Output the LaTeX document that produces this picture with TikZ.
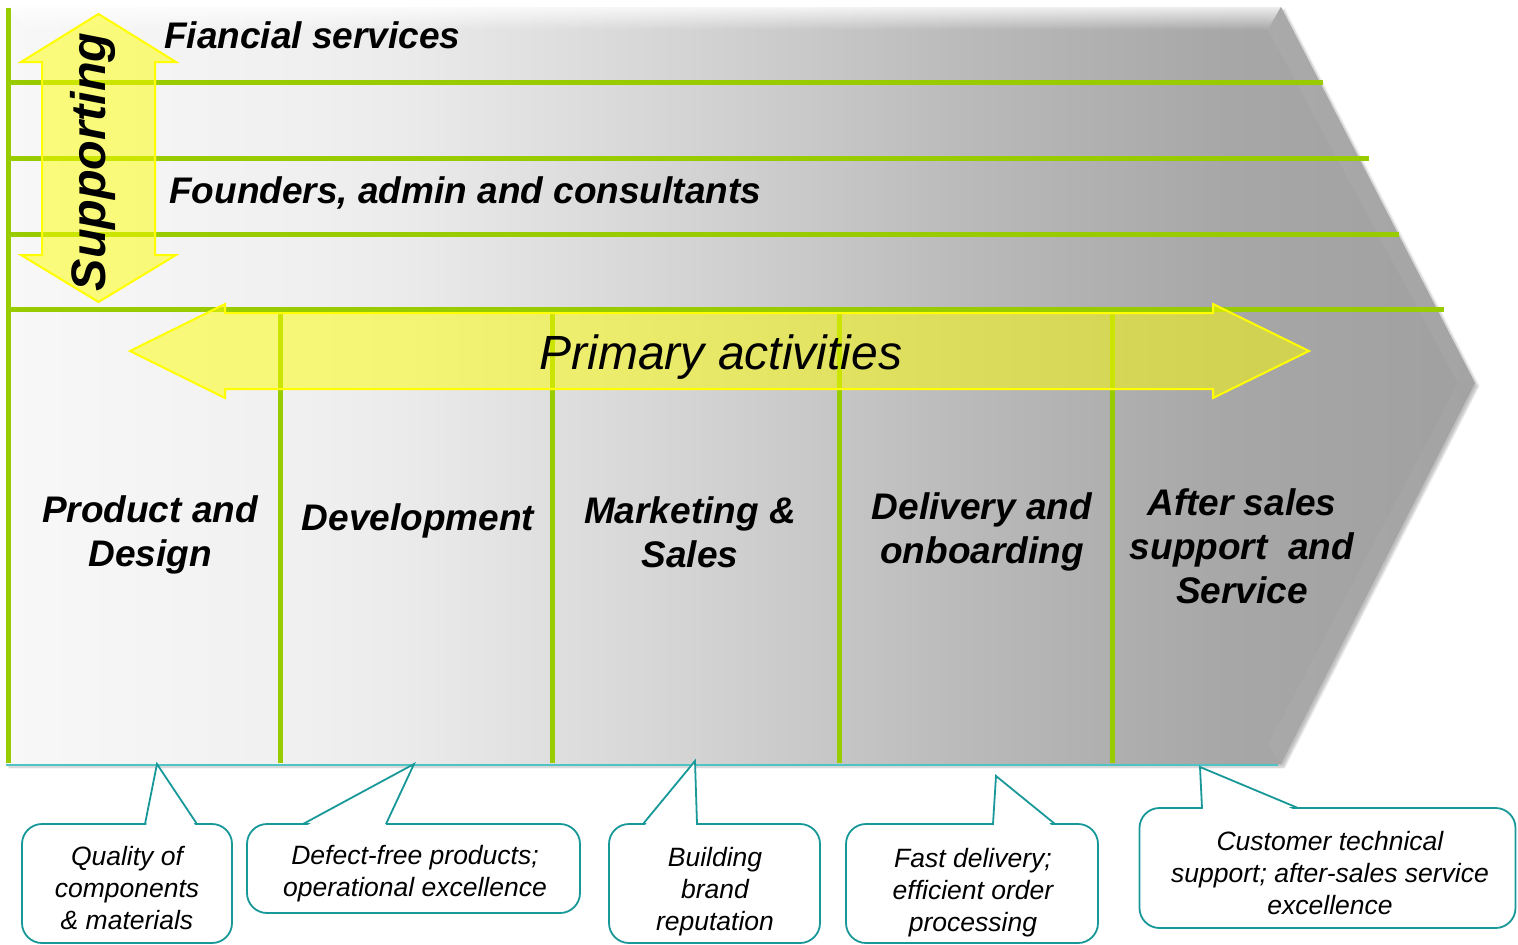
\documentclass[tikz,border=0pt]{standalone}
\usepackage{fontspec}
\setmainfont{Liberation Sans}
\usetikzlibrary{shadows.blur,fadings}
\definecolor{vcgreen}{RGB}{153,204,0}
\definecolor{vcteal}{RGB}{24,152,152}
\definecolor{vcyellow}{RGB}{255,255,0}
\definecolor{vclteal}{RGB}{80,196,196}
\definecolor{s0}{HTML}{F8F8F8}
\definecolor{s1}{HTML}{F0F0F0}
\definecolor{s2}{HTML}{EBEBEB}
\definecolor{s3}{HTML}{D3D3D3}
\definecolor{s4}{HTML}{B9B9B9}
\definecolor{s5}{HTML}{A7A7A7}
\definecolor{s6}{HTML}{A0A0A0}
\pgfdeclarehorizontalshading{chevshade}{100bp}{color(0bp)=(s0); color(25bp)=(s0); color(35bp)=(s1); color(38.5bp)=(s2); color(48.5bp)=(s3); color(58bp)=(s4); color(66.5bp)=(s5); color(75bp)=(s6); color(100bp)=(s6)}
\begin{document}
\begin{tikzpicture}[x=1pt,y=-1pt,
  greenline/.style={vcgreen, line width=5pt},
  yarrow/.style={fill=vcyellow, fill opacity=0.5, draw=vcyellow, draw opacity=1, line width=2pt, line join=miter},
  supptext/.style={font=\fontsize{37}{44}\selectfont\bfseries\itshape, inner sep=0pt},
  coltext/.style={font=\fontsize{37}{44}\selectfont\bfseries\itshape, align=center, inner sep=0pt},
  cbox/.style={draw=vcteal, line width=1.8pt, fill=white, rounded corners=20pt, inner sep=0pt},
  ctext/.style={font=\fontsize{26.5}{32}\selectfont\itshape, align=center, inner sep=0pt},
  cpointer/.style={draw=vcteal, line width=1.8pt, line join=miter}]
\useasboundingbox (0,0) rectangle (1518,945);

% main chevron
\path[shading=chevshade, blur shadow={shadow blur steps=6, shadow xshift=3pt, shadow yshift=-3pt, shadow opacity=25}]
  (6,7) -- (1281,7) -- (1475,383) -- (1281,764) -- (6,764) -- cycle;
\fill[white, path fading=south, fill opacity=0.8] (6,7) -- (1281,7) -- (1268,30) -- (30,30) -- cycle;
\fill[white, fill opacity=0.05] (1281,7) -- (1475,383) -- (1458,383) -- (1268,30) -- cycle;
\fill[white, fill opacity=0.04] (1475,383) -- (1281,764) -- (1268,745) -- (1458,383) -- cycle;
\draw[vclteal, line width=1.2pt] (6,765) -- (1278,765);

% green lines
\draw[greenline] (8,8) -- (8,763);
\draw[greenline] (8,82) -- (1323,82);
\draw[greenline] (8,158) -- (1369,158);
\draw[greenline] (8,234) -- (1399,234);
\draw[greenline] (8,309) -- (1444,309);
\foreach \xx in {280,552,839,1112} \draw[greenline] (\xx,309) -- (\xx,763);

% arrows
\path[yarrow] (98.5,14) -- (176,62) -- (155,62) -- (155,255) -- (176,255) -- (98.5,302)
  -- (21,255) -- (42,255) -- (42,62) -- (21,62) -- cycle;
\path[yarrow] (130,351) -- (225,304) -- (225,313) -- (1213,313) -- (1213,304) -- (1309,351)
  -- (1213,398) -- (1213,389) -- (225,389) -- (225,398) -- cycle;

% texts
\node[supptext, anchor=base west] (fin) at (164,48) {Fiancial services};
\node[supptext, anchor=base west] (fnd) at (169,203) {Founders, admin and consultants};
\node[font=\fontsize{48.5}{50}\selectfont\bfseries\itshape, inner sep=0pt, rotate=90, anchor=base] (sup) at (105,162) {Supporting};
\node[font=\fontsize{48}{50}\selectfont\itshape, inner sep=0pt, anchor=base] (pri) at (721,369) {Primary activities};

\node[coltext] (p1) at (150,535) {Product and\\Design};
\node[coltext] (p2) at (418,521) {Development};
\node[coltext] (p3) at (690,532) {Marketing \&\\Sales};
\node[coltext] (p4) at (982,532) {Delivery and\\onboarding};
\node[coltext] (p5) at (1242,546) {After sales\\support\ \ and\\Service};

% callouts
\node[cbox, minimum width=210pt, minimum height=119pt] (c1) at (127,883.5) {};
\node[cbox, minimum width=333pt, minimum height=89pt] (c2) at (413.5,868.5) {};
\node[cbox, minimum width=211pt, minimum height=119pt] (c3) at (714.5,883.5) {};
\node[cbox, minimum width=252pt, minimum height=119pt] (c4) at (972,883.5) {};
\node[cbox, minimum width=376pt, minimum height=120pt] (c5) at (1327.5,868) {};

\coordinate (t1) at (157,764);
\coordinate (t2) at (414,764);
\coordinate (t3) at (695,761);
\coordinate (t4) at (996,776);
\coordinate (t5) at (1200,767);

\fill[white] (146,826.5) -- (t1) -- (196,826.5) -- cycle;
\draw[cpointer] (145,824) -- (t1) -- (197,824);
\fill[white] (305,826.5) -- (t2) -- (385,826.5) -- cycle;
\draw[cpointer] (303,824) -- (t2) -- (386,824);
\fill[white] (644,826.5) -- (t3) -- (696,826.5) -- cycle;
\draw[cpointer] (643,824) -- (t3) -- (697,824);
\fill[white] (994,826.5) -- (t4) -- (1053,826.5) -- cycle;
\draw[cpointer] (993,824) -- (t4) -- (1055,824);
\fill[white] (1203,810.5) -- (t5) -- (1296,810.5) -- cycle;
\draw[cpointer] (1202,808) -- (t5) -- (1298,808);

\node[ctext] (q1) at (127,888) {Quality of\\components\\\& materials};
\node[ctext] (q2) at (415,874) {Defect-free products;\\operational excellence};
\node[ctext] (q3) at (715,892) {Building\\brand\\reputation};
\node[ctext] (q4) at (973,893) {Fast delivery;\\efficient order\\processing};
\node[ctext] (q5) at (1330,873) {Customer technical\\support; after-sales service\\excellence};
\end{tikzpicture}
\end{document}
